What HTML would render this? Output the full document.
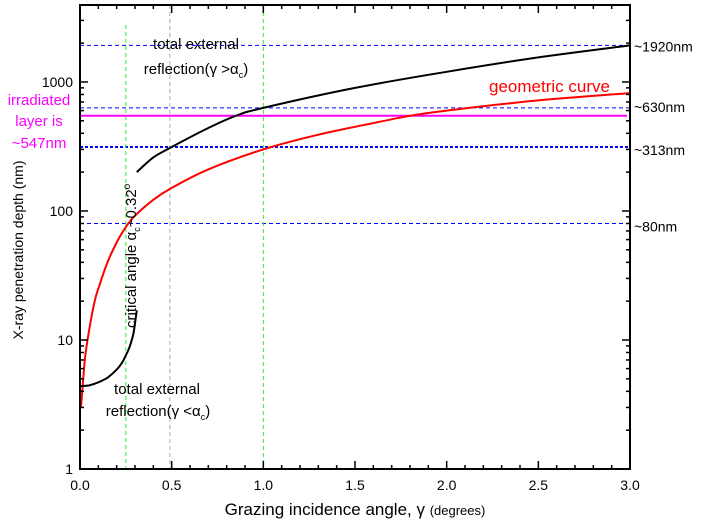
<!DOCTYPE html>
<html><head><meta charset="utf-8"><style>
body{margin:0;background:#fff}
svg{display:block;font-family:"Liberation Sans",sans-serif}
</style></head><body>
<svg id="chart" width="705" height="529"></svg>
<script>
const redX=[0.005,0.01,0.02,0.03,0.05,0.08,0.1,0.15,0.2,0.25,0.3,0.4,0.5,0.7,1.0,1.3,1.6,1.8,2.0,2.5,3.0];
const redY=[3.0,3.6,5.6,7.8,12,20,25,40,57,75,92,122,151,210,300,390,480,547,600,720,820];
const blkLowX=[0.0,0.05,0.1,0.15,0.2,0.23,0.25,0.27,0.29,0.3,0.31];
const blkLowY=[4.4,4.45,4.7,5.1,5.9,6.7,7.6,8.8,11,13.5,17];
const blkUpX=[0.31,0.4,0.5,0.7,0.85,1.0,1.5,2.0,2.5,3.0];
const blkUpY=[200,260,313,440,547,630,900,1200,1550,1920];
const hLines=[1920,630,313,80];
const hLabels=["~1920nm","~630nm","~313nm","~80nm"];
const magentaLevel=547;
const vLines=[0.25,0.49,1.0];
const xTicks=[0,0.5,1.0,1.5,2.0,2.5,3.0];
const xTickLabels=["0.0","0.5","1.0","1.5","2.0","2.5","3.0"];
const yTicks=[1,10,100,1000];
const yTickLabels=["1","10","100","1000"];

const L=80,R=630,T=5,B=469,YMAX=3950;
const X=v=>L+(v-0)/3*(R-L);
const Y=v=>B-Math.log10(v)/Math.log10(YMAX)*(B-T);
const svg=document.getElementById('chart');
const NS='http://www.w3.org/2000/svg';
function mk(tag,at,parent){const e=document.createElementNS(NS,tag);for(const k in at)e.setAttribute(k,at[k]);(parent||svg).appendChild(e);return e;}
function txt(s,x,y,at){const e=mk('text',Object.assign({x:x,y:y,'font-size':14},at||{}));e.textContent=s;return e;}

hLines.forEach((v,i)=>{
  const l=mk('line',{x1:L,x2:R,y1:Y(v),y2:Y(v),stroke:'#0000ff','stroke-width':v===313?2:1,'stroke-dasharray':v===313?'3,2':'4,3'});
  
  
  const t=txt(hLabels[i],634,Y(v)+(v===1920?6:v===630?4:8),{'font-size':14});
  
  
});
vLines.forEach(v=>{
  const l=mk('line',{x1:X(v),x2:X(v),y1:v===0.25?25:T,y2:B,stroke:v===0.49?'#99bbaa':'#33ee33','stroke-width':1,'stroke-dasharray':'4,3'});
  
  
});
mk('line',{x1:R,x2:R,y1:T,y2:B,stroke:'#229922','stroke-dasharray':'3,2','stroke-width':1.5});
const mg=mk('line',{x1:L,x2:627,y1:Y(magentaLevel),y2:Y(magentaLevel),stroke:'#ff00ff','stroke-width':2});



function curve(xs,ys,color,name){
  const P=xs.map((x,i)=>[X(x),Y(ys[i])]);
  let d='M'+P[0][0].toFixed(1)+','+P[0][1].toFixed(1);
  for(let i=0;i<P.length-1;i++){
    const p0=P[Math.max(0,i-1)],p1=P[i],p2=P[i+1],p3=P[Math.min(P.length-1,i+2)];
    const c1=[p1[0]+(p2[0]-p0[0])/6,p1[1]+(p2[1]-p0[1])/6];
    const c2=[p2[0]-(p3[0]-p1[0])/6,p2[1]-(p3[1]-p1[1])/6];
    d+='C'+c1[0].toFixed(1)+','+c1[1].toFixed(1)+' '+c2[0].toFixed(1)+','+c2[1].toFixed(1)+' '+p2[0].toFixed(1)+','+p2[1].toFixed(1);
  }
  const p=mk('path',{d:d,fill:'none',stroke:color,'stroke-width':2});
  
  
}
curve(redX,redY,'#ff0000','geometric-curve');
curve(blkLowX,blkLowY,'#000','penetration-curve-below-critical');
curve(blkUpX,blkUpY,'#000','penetration-curve-above-critical');

const fr=mk('rect',{x:L,y:T,width:R-L,height:B-T,fill:'none',stroke:'#000','stroke-width':2});


for(let i=0;i<=30;i++){const v=i/10,maj=i%5===0,len=maj?8:4;
  mk('line',{x1:X(v),x2:X(v),y1:B,y2:B-len,stroke:'#000','stroke-width':1.5});
  mk('line',{x1:X(v),x2:X(v),y1:T,y2:T+len,stroke:'#000','stroke-width':1.5});}
xTicks.forEach((v,i)=>{const t=txt(xTickLabels[i],X(v),490,{'text-anchor':'middle','font-size':14});
  });
for(let d=0;d<4;d++)for(let m=1;m<10;m++){const v=m*Math.pow(10,d);if(v>YMAX)break;const len=m===1?8:4;
  mk('line',{x1:L,x2:L+len,y1:Y(v),y2:Y(v),stroke:'#000','stroke-width':1.5});
  mk('line',{x1:R,x2:R-len,y1:Y(v),y2:Y(v),stroke:'#000','stroke-width':1.5});}
yTicks.forEach((v,i)=>{const t=txt(yTickLabels[i],73,Y(v)+5,{'text-anchor':'end','font-size':14});
  });
</script>
<svg width="705" height="529" style="position:absolute;left:0;top:0">
<g font-family="Liberation Sans, sans-serif">
<text x="355" y="515" font-size="17" text-anchor="middle">Grazing incidence angle, γ <tspan font-size="13">(degrees)</tspan></text>
<text transform="translate(23,250) rotate(-90)" font-size="14" text-anchor="middle">X-ray penetration depth (nm)</text>
<text x="196" y="49" font-size="15" text-anchor="middle">total external</text>
<text x="196" y="74" font-size="15" text-anchor="middle">reflection(γ &gt;α<tspan font-size="9" dy="4">c</tspan><tspan dy="-4">)</tspan></text>
<text x="157" y="394" font-size="15" text-anchor="middle">total external</text>
<text x="158" y="416" font-size="15" text-anchor="middle">reflection(γ &lt;α<tspan font-size="9" dy="4">c</tspan><tspan dy="-4">)</tspan></text>
<text transform="translate(136,328) rotate(-90)" font-size="15">critical angle α<tspan font-size="9" dy="4">c</tspan><tspan dy="-4">~0.32</tspan><tspan font-size="10" dy="-6">o</tspan></text>
<text x="489" y="92" font-size="17" fill="#ff0000">geometric curve</text>
<text x="39" y="105" font-size="15" fill="#ff00ff" text-anchor="middle"><tspan x="39">irradiated</tspan><tspan x="39" dy="21">layer is</tspan><tspan x="39" dy="22">~547nm</tspan></text>
</g></svg>
</body></html>
